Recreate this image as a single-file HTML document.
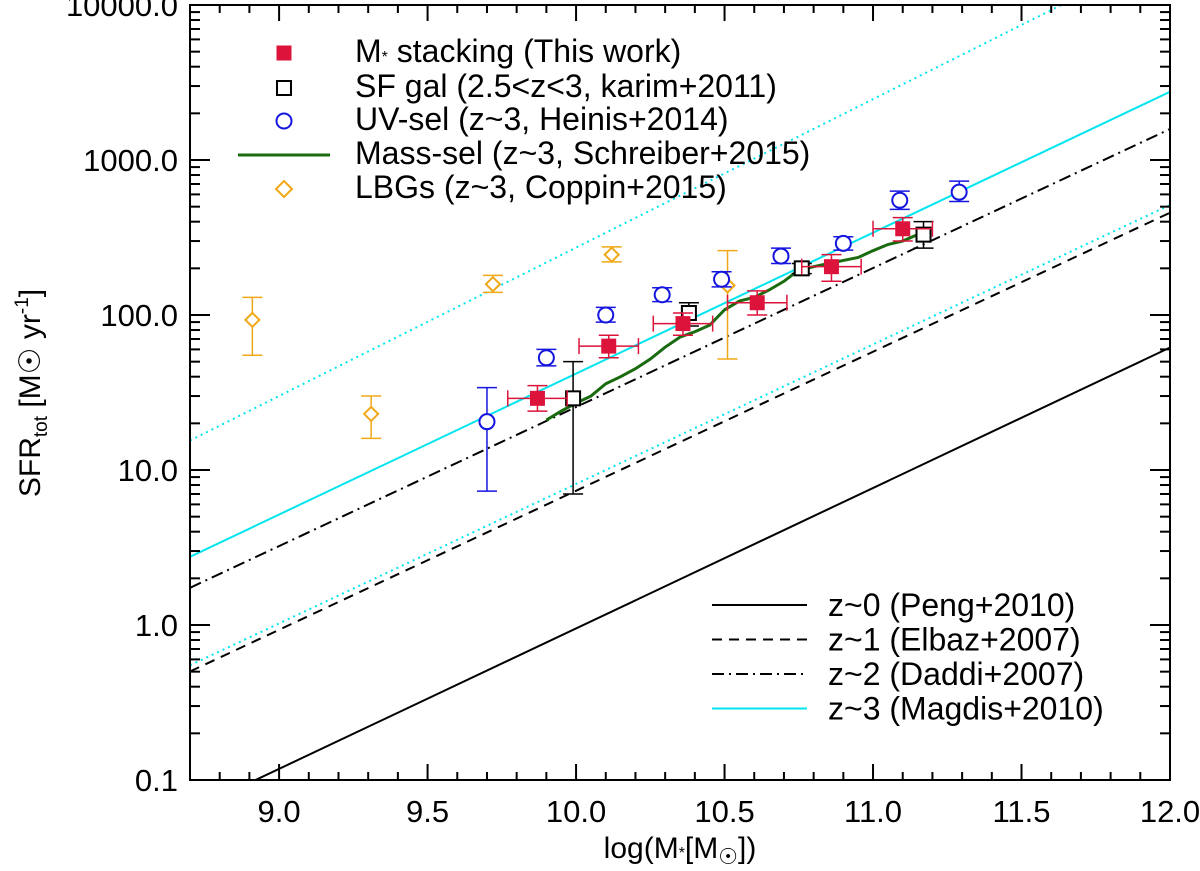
<!DOCTYPE html>
<html><head><meta charset="utf-8"><style>
body{margin:0;background:#fff;}
svg text{font-family:"Liberation Sans",Helvetica,sans-serif;}
</style></head><body>
<svg id="chart" width="1200" height="866" xmlns="http://www.w3.org/2000/svg"></svg>
<script>
// ---- data ----
const xTicks=[9.0,9.5,10.0,10.5,11.0,11.5,12.0];
const yTicks=[0.1,1,10,100,1000,10000];
const yTickLabels=["0.1","1.0","10.0","100.0","1000.0","10000.0"];
// relation lines: [logSFR at x=XMIN, logSFR at x=12]
const relNames=["peng-z0","elbaz-z1","daddi-z2","magdis-z3","magdis-upper","magdis-lower"];
const relStart=[-1.20,-0.30,0.24,0.44,1.19,-0.26];
const relEnd=[1.79,2.66,3.20,3.44,4.35,2.71];
const stackX=[9.87,10.11,10.36,10.61,10.86,11.10];
const stackY=[29,63,88,120,205,360];
const stackYlo=[24,53,74,100,165,300];
const stackYhi=[35,74,103,143,245,425];
const stackXerr=[0.1,0.1,0.1,0.1,0.1,0.1];
const karimX=[9.99,10.38,10.76,11.17];
const karimY=[29,103,200,330];
const karimYlo=[7,85,185,270];
const karimYhi=[50,120,215,400];
const heinisX=[9.70,9.90,10.10,10.29,10.49,10.69,10.90,11.09,11.29];
const heinisY=[20.5,53,100,135,170,240,290,550,620];
const heinisYlo=[7.3,47,90,122,152,215,262,480,540];
const heinisYhi=[34,60,112,150,190,270,320,630,730];
const coppinX=[8.91,9.31,9.72,10.12,10.51];
const coppinY=[93,23,158,245,155];
const coppinYlo=[55,16,140,220,52];
const coppinYhi=[130,30,180,275,260];
const schrX=[9.90,9.95,10.0,10.05,10.1,10.15,10.2,10.25,10.3,10.35,10.4,10.45,10.5,10.55,10.6,10.65,10.7,10.75,10.8,10.85,10.9,10.95,11.0,11.05,11.1,11.15];
const schrY=[21,24,27,30,36,40,45,52,62,72,78,86,108,123,130,145,165,195,205,215,225,235,260,285,300,330];

// ---- axes ----
const L=190,R=1170,T=5,B=780,XMIN=8.70,XMAX=12.0;
const sx=v=>L+(v-XMIN)/(XMAX-XMIN)*(R-L);
const sy=v=>B-(Math.log10(v)+1)/5*(B-T);
const syl=l=>B-(l+1)/5*(B-T);
const svg=document.getElementById('chart');
const NS="http://www.w3.org/2000/svg";
function mk(tag,attrs,parent){const e=document.createElementNS(NS,tag);for(const k in attrs)e.setAttribute(k,attrs[k]);(parent||svg).appendChild(e);return e;}

const defs=mk('defs',{});
const cp=mk('clipPath',{id:'clip'},defs);mk('rect',{x:L,y:T,width:R-L,height:B-T},cp);
const plot=mk('g',{'clip-path':'url(#clip)'});



// ticks
const tg=mk('g',{stroke:'#000','stroke-width':2});


for(let k=1;k<=33;k++){const v=XMIN+0.1*k-0.0;const vv=Math.round(v*10)/10;if(vv>XMAX+1e-6)break;const x=sx(vv);const major=Math.abs(vv*2-Math.round(vv*2))<1e-6;const len=major?16:8;
 mk('line',{x1:x,x2:x,y1:B,y2:B-len},tg);mk('line',{x1:x,x2:x,y1:T,y2:T+len},tg);}
for(let d=-1;d<4;d++){for(let m=1;m<10;m++){const l=d+Math.log10(m);const y=syl(l);const len=m==1?20:10;
 mk('line',{x1:L,x2:L+len,y1:y,y2:y},tg);mk('line',{x1:R,x2:R-len,y1:y,y2:y},tg);}}
xTicks.forEach(v=>{const t=mk('text',{x:sx(v),y:822,'font-size':31,'text-anchor':'middle'});t.textContent=v.toFixed(1);
 });
yTicks.forEach((v,i)=>{const t=mk('text',{x:178,y:sy(v)+11,'font-size':31,'text-anchor':'end'});t.textContent=yTickLabels[i];
 });

// relation lines
const relStyle=[{s:'#000',d:''},{s:'#000',d:'10,7'},{s:'#000',d:'12,5,2,5'},{s:'#00e5ee',d:''},{s:'#00e5ee',d:'2,4'},{s:'#00e5ee',d:'2,4'}];
relNames.forEach((n,i)=>{const l=mk('line',{x1:sx(XMIN),y1:syl(relStart[i]),x2:sx(XMAX),y2:syl(relEnd[i]),stroke:relStyle[i].s,'stroke-width':2,'stroke-dasharray':relStyle[i].d},plot);
 });

// schreiber
const sp=mk('polyline',{points:schrX.map((x,i)=>sx(x)+','+sy(schrY[i])).join(' '),fill:'none',stroke:'#1a6b10','stroke-width':3},plot);


function ebar(x,lo,hi,col,g,cap){mk('line',{x1:sx(x),x2:sx(x),y1:sy(lo),y2:sy(hi),stroke:col,'stroke-width':1.5},g);
 [lo,hi].forEach(v=>mk('line',{x1:sx(x)-cap,x2:sx(x)+cap,y1:sy(v),y2:sy(v),stroke:col,'stroke-width':1.5},g));}

coppinX.forEach((x,i)=>{const g=mk('g',{},plot);
 ebar(x,coppinYlo[i],coppinYhi[i],'#f0a818',g,10);const cx=sx(x),cy=sy(coppinY[i]);
 mk('polygon',{points:`${cx},${cy-7} ${cx+7},${cy} ${cx},${cy+7} ${cx-7},${cy}`,fill:'#fff',stroke:'#f0a818','stroke-width':2},g);});
heinisX.forEach((x,i)=>{const g=mk('g',{},plot);
 ebar(x,heinisYlo[i],heinisYhi[i],'#1515e0',g,10);mk('circle',{cx:sx(x),cy:sy(heinisY[i]),r:7.5,fill:'#fff',stroke:'#1515e0','stroke-width':2},g);});
karimX.forEach((x,i)=>{const g=mk('g',{},plot);
 ebar(x,karimYlo[i],karimYhi[i],'#000',g,10);mk('rect',{x:sx(x)-7,y:sy(karimY[i])-7,width:14,height:14,fill:'#fff',stroke:'#000','stroke-width':2},g);});
stackX.forEach((x,i)=>{const g=mk('g',{},plot);
 const col='#dc143c';ebar(x,stackYlo[i],stackYhi[i],col,g,10);const y=sy(stackY[i]);
 mk('line',{x1:sx(x-stackXerr[i]),x2:sx(x+stackXerr[i]),y1:y,y2:y,stroke:col,'stroke-width':1.5},g);
 [x-stackXerr[i],x+stackXerr[i]].forEach(v=>mk('line',{x1:sx(v),x2:sx(v),y1:y-8,y2:y+8,stroke:col,'stroke-width':1.5},g));
 mk('rect',{x:sx(x)-7.5,y:y-7.5,width:15,height:15,fill:col},g);});

mk('rect',{x:L,y:T,width:R-L,height:B-T,fill:'none',stroke:'#000','stroke-width':2});

// axis titles
const xt=mk('text',{x:680,y:858,'font-size':30,'text-anchor':'middle'});xt.innerHTML='log(M<tspan font-size="16">*</tspan>[M<tspan font-size="22" dy="6">☉</tspan><tspan dy="-6">])</tspan>';

const yt=mk('text',{x:0,y:0,'font-size':30,'text-anchor':'middle',transform:'translate(40,393) rotate(-90)'});
yt.innerHTML='SFR<tspan font-size="19" dy="7">tot</tspan><tspan dy="-7"> [M☉ yr</tspan><tspan font-size="19" dy="-12">-1</tspan><tspan dy="12">]</tspan>';


// legend top
const lg=mk('g',{'font-size':32});
const legTexts=['M','SF gal (2.5<z<3, karim+2011)','UV-sel (z~3, Heinis+2014)','Mass-sel (z~3, Schreiber+2015)','LBGs (z~3, Coppin+2015)'];
const legY=[53,88,121,155,189];
const MX=284;
legTexts.forEach((s,i)=>{const y=legY[i];const e=mk('g',{},lg);
 if(i==0)mk('rect',{x:MX-7.5,y:y-7.5,width:15,height:15,fill:'#dc143c'},e);
 if(i==1)mk('rect',{x:MX-7,y:y-7,width:14,height:14,fill:'#fff',stroke:'#000','stroke-width':2},e);
 if(i==2)mk('circle',{cx:MX,cy:y,r:7.5,fill:'#fff',stroke:'#1515e0','stroke-width':2},e);
 if(i==3)mk('line',{x1:238,x2:330,y1:y,y2:y,stroke:'#1a6b10','stroke-width':3},e);
 if(i==4)mk('polygon',{points:`${MX},${y-8} ${MX+8},${y} ${MX},${y+8} ${MX-8},${y}`,fill:'#fff',stroke:'#f0a818','stroke-width':2},e);
 const t=mk('text',{x:355,y:y+9},e);
 if(i==0){t.innerHTML='M<tspan font-size="16">*</tspan> stacking (This work)';}else t.textContent=s;});
// legend bottom
const lg2=mk('g',{'font-size':32});
const leg2=['z~0 (Peng+2010)','z~1 (Elbaz+2007)','z~2 (Daddi+2007)','z~3 (Magdis+2010)'];
leg2.forEach((s,i)=>{const y=605+i*34.5;const e=mk('g',{},lg2);
 mk('line',{x1:712,x2:807,y1:y,y2:y,stroke:relStyle[i].s,'stroke-width':2,'stroke-dasharray':relStyle[i].d},e);
 const t=mk('text',{x:828,y:y+11},e);t.textContent=s;});
</script>
</body></html>
